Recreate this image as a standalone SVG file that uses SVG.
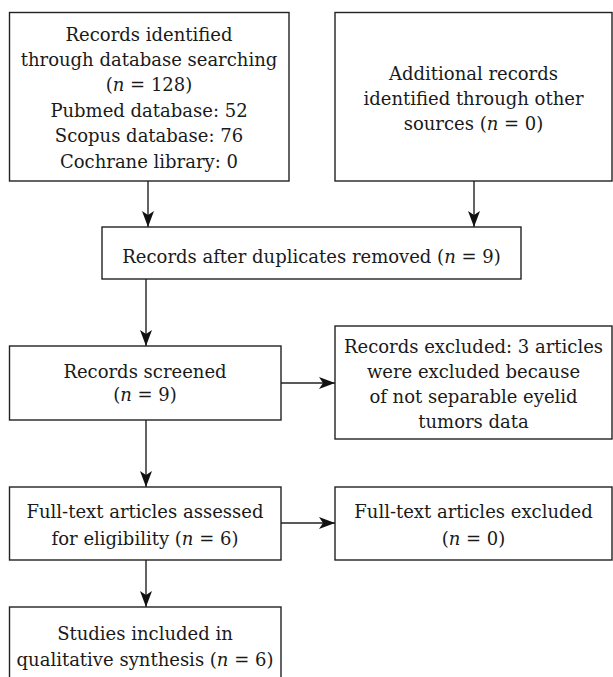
<svg xmlns="http://www.w3.org/2000/svg" width="613" height="677" viewBox="0 0 613 677">
<style>
.box{fill:#fff;stroke:#222;stroke-width:1.4}
.t{font-family:"DejaVu Serif","Liberation Serif",serif;font-size:18px;fill:#1a1a1a;text-anchor:middle}
.i{font-style:italic}
.c{stroke:#222;stroke-width:1.4;fill:none;marker-end:url(#ah)}
</style>
<defs>
<marker id="ah" markerWidth="16" markerHeight="12" refX="16" refY="6" orient="auto" markerUnits="userSpaceOnUse">
<path d="M0,0 L16,6 L0,12 L4,6 Z" fill="#111"/>
</marker>
</defs>
<rect width="613" height="677" fill="#fff"/>
<g id="connectors">
<line class="c" x1="148" y1="181" x2="148" y2="227"/>
<line class="c" x1="474" y1="181" x2="474" y2="227"/>
<line class="c" x1="146" y1="279" x2="146" y2="346"/>
<line class="c" x1="281" y1="383" x2="335" y2="383"/>
<line class="c" x1="146" y1="420" x2="146" y2="487"/>
<line class="c" x1="281" y1="523" x2="335" y2="523"/>
<line class="c" x1="146" y1="560" x2="146" y2="607"/>
</g>
<g id="identified">
<rect class="box" x="9.5" y="12.5" width="279.5" height="168.5"/>
<text class="t" x="149" y="41">Records identified</text>
<text class="t" x="149" y="66">through database searching</text>
<text class="t" x="149" y="91">(<tspan class="i">n</tspan> = 128)</text>
<text class="t" x="149" y="117">Pubmed database: 52</text>
<text class="t" x="149" y="142">Scopus database: 76</text>
<text class="t" x="149" y="168">Cochrane library: 0</text>
</g>
<g id="additional">
<rect class="box" x="335" y="12.5" width="277" height="168.5"/>
<text class="t" x="473.5" y="80">Additional records</text>
<text class="t" x="473.5" y="105">identified through other</text>
<text class="t" x="473.5" y="130">sources (<tspan class="i">n</tspan> = 0)</text>
</g>
<g id="duplicates">
<rect class="box" x="102" y="227" width="419" height="52"/>
<text class="t" x="311.5" y="263">Records after duplicates removed (<tspan class="i">n</tspan> = 9)</text>
</g>
<g id="screened">
<rect class="box" x="9.5" y="346" width="271.5" height="74"/>
<text class="t" x="145" y="378">Records screened</text>
<text class="t" x="145" y="401">(<tspan class="i">n</tspan> = 9)</text>
</g>
<g id="excluded">
<rect class="box" x="335" y="326" width="277" height="113"/>
<text class="t" x="473.5" y="353">Records excluded: 3 articles</text>
<text class="t" x="473.5" y="378">were excluded because</text>
<text class="t" x="473.5" y="403">of not separable eyelid</text>
<text class="t" x="473.5" y="428">tumors data</text>
</g>
<g id="fulltext">
<rect class="box" x="9.5" y="487" width="271.5" height="73"/>
<text class="t" x="145" y="518">Full-text articles assessed</text>
<text class="t" x="145" y="545">for eligibility (<tspan class="i">n</tspan> = 6)</text>
</g>
<g id="fulltext-excluded">
<rect class="box" x="335" y="487" width="277" height="73"/>
<text class="t" x="473.5" y="518">Full-text articles excluded</text>
<text class="t" x="473.5" y="545">(<tspan class="i">n</tspan> = 0)</text>
</g>
<g id="included">
<rect class="box" x="9.5" y="607" width="271.5" height="80"/>
<text class="t" x="145" y="640">Studies included in</text>
<text class="t" x="145" y="666">qualitative synthesis (<tspan class="i">n</tspan> = 6)</text>
</g>
</svg>
